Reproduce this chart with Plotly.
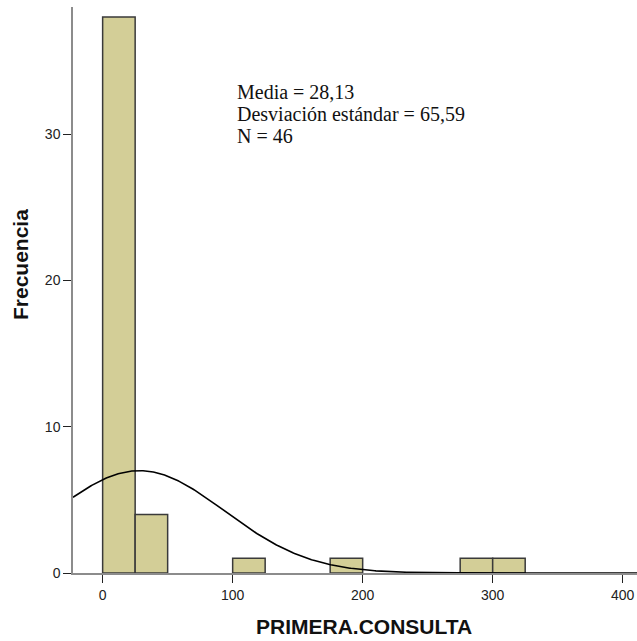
import numpy as np
import plotly.graph_objects as go

# Histogram of PRIMERA.CONSULTA (bin width 25)
bin_lefts = [0, 25, 100, 175, 275, 300]
counts = [38, 4, 1, 1, 1, 1]
bin_width = 25

media = 28.13
desviacion = 65.59
n_total = 46

stats_lines = ["Media = 28,13", "Desviación estándar = 65,59", "N = 46"]

x_ticks = [0, 100, 200, 300, 400]
y_ticks = [0, 10, 20, 30]

x_range = [-22.8, 411]
y_range = [0, 38.69]

# Normal curve scaled to the histogram counts
xc = np.linspace(x_range[0], x_range[1], 500)
yc = n_total * bin_width / (desviacion * np.sqrt(2 * np.pi)) * np.exp(-0.5 * ((xc - media) / desviacion) ** 2)

fig = go.Figure()
fig.add_trace(go.Bar(
    x=bin_lefts, y=counts, width=bin_width, offset=0,
    marker=dict(color="#D3CE97", line=dict(color="#3a3a3a", width=1.5)),
    hoverinfo="skip",
))
fig.add_trace(go.Scatter(
    x=xc, y=yc, mode="lines",
    line=dict(color="black", width=1.6),
    hoverinfo="skip",
))

axis_common = dict(
    showgrid=False, zeroline=False,
    showline=True, linecolor="#8c8c8c", linewidth=1.5,
    ticks="outside", ticklen=8, tickcolor="#222", tickwidth=1,
    tickfont=dict(family="Arial, Liberation Sans", size=14, color="#222"),
)

# Statistics box, one annotation per line
plot_h = 566
stat_annotations = [
    dict(
        xref="paper", yref="paper", x=(235 - 73) / 564, y=(573 - (92 + 22 * i)) / plot_h,
        xanchor="left", yanchor="middle", align="left", showarrow=False,
        text=line,
        font=dict(family="Liberation Serif, Times New Roman", size=20, color="#111"),
    )
    for i, line in enumerate(stats_lines)
]

fig.update_layout(
    width=637, height=641,
    margin=dict(l=73, r=0, t=7, b=68),
    paper_bgcolor="white", plot_bgcolor="white",
    showlegend=False,
    xaxis=dict(range=x_range, tickvals=x_ticks, **axis_common),
    yaxis=dict(range=y_range, tickvals=y_ticks, **axis_common),
    annotations=stat_annotations + [
        dict(
            xref="paper", yref="paper", x=(364 - 73) / 564, y=(573 - 626) / plot_h,
            xanchor="center", yanchor="middle", showarrow=False,
            text="<b>PRIMERA.CONSULTA</b>",
            font=dict(family="Arial, Liberation Sans", size=21, color="#111"),
        ),
        dict(
            xref="paper", yref="paper", x=(20 - 73) / 564, y=(573 - 265) / plot_h,
            xanchor="center", yanchor="middle", showarrow=False, textangle=-90,
            text="<b>Frecuencia</b>",
            font=dict(family="Arial, Liberation Sans", size=21, color="#111"),
        ),
    ],
)

fig.write_html("out.html")
